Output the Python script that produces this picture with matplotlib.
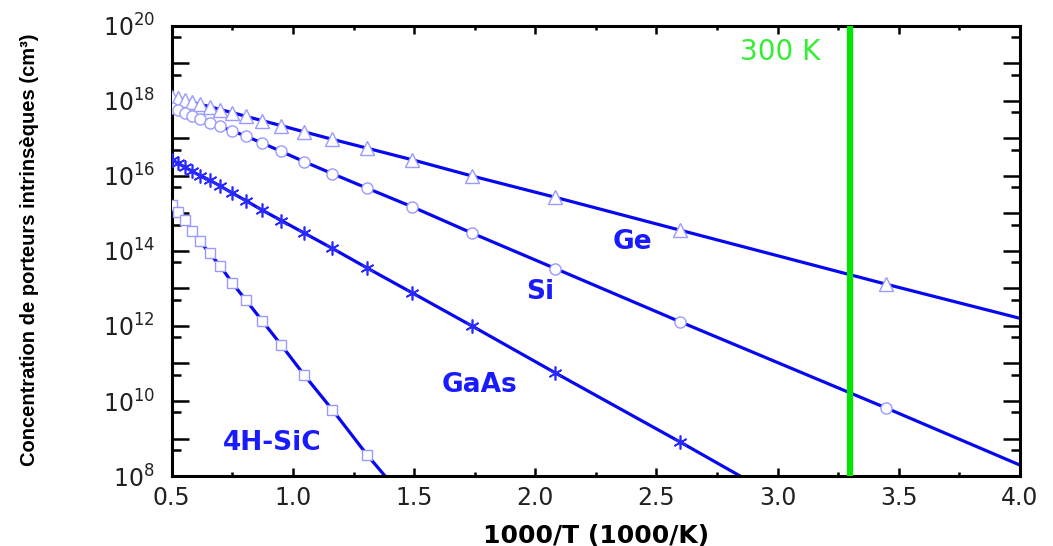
#!/usr/bin/env python3
# -*- coding: utf-8 -*-
"""
Intrinsic carrier concentration vs 1000/T for Ge, Si, GaAs and 4H-SiC
"""

import math
import matplotlib
matplotlib.use("Agg")
import matplotlib.pyplot as plt
from matplotlib.ticker import FixedLocator, FuncFormatter, LogLocator, MultipleLocator


# marker positions, 1000/T (1000/K)
x_mk = [0.500, 0.525, 0.553, 0.583, 0.617, 0.656, 0.700, 0.750, 0.806, 0.873,
        0.952, 1.047, 1.163, 1.307, 1.493, 1.739, 2.083, 2.597, 3.448]

# Ge (cm-3), end = where the line stops
ge_n = [1.29e18, 1.17e18, 1.05e18, 9.3e17, 8.1e17, 7.1e17, 5.9e17, 4.9e17, 3.9e17, 3.0e17,
        2.2e17, 1.5e17, 9.5e16, 5.5e16, 2.7e16, 1.0e16, 2.7e15, 3.6e14, 1.3e13]
ge_end = (4.0, 1.6e12)

# Si
si_n = [6.6e17, 5.8e17, 4.9e17, 4.1e17, 3.3e17, 2.6e17, 2.1e17, 1.6e17, 1.15e17, 7.6e16,
        4.5e16, 2.4e16, 1.15e16, 4.7e15, 1.5e15, 3.0e14, 3.4e13, 1.3e12, 6.5e9]
si_end = (4.0, 1.95e8)

# GaAs (markers up to 2.597)
gaas_n = [2.7e16, 2.2e16, 1.74e16, 1.35e16, 1.02e16, 7.8e15, 5.4e15, 3.5e15, 2.2e15, 1.23e15,
          6.5e14, 3.0e14, 1.17e14, 3.5e13, 7.6e12, 1.0e12, 5.6e10, 8.1e8]
gaas_end = (2.845, 1.0e8)

# 4H-SiC (markers up to 1.307)
sic_n = [1.7e15, 1.07e15, 6.8e14, 3.5e14, 1.8e14, 8.7e13, 4.0e13, 1.4e13, 4.9e12, 1.38e12,
         3.1e11, 4.9e10, 5.8e9, 3.6e8]
sic_end = (1.38, 1.0e8)

t_room = 3.3  # 300 K line as drawn

line_col = "#0808f0"
mk_col = "#9a9aff"

fig = plt.figure(figsize=(10.53, 5.46), dpi=100)
ax = fig.add_axes([0.1631, 0.1282, 0.8056, 0.8242])


def plot_series(ax, xs, ys, end, marker, ms, mec, mew):
    xl = xs[:len(ys)] + [end[0]]
    yl = ys + [end[1]]
    ax.plot(xl, yl, color=line_col, lw=2.3, zorder=2)
    ax.plot(xs[:len(ys)], ys, ls="none", marker=marker, ms=ms, mfc="white",
            mec=mec, mew=mew, zorder=3)


plot_series(ax, x_mk, ge_n, ge_end, "^", 9.5, mk_col, 1.0)
plot_series(ax, x_mk, si_n, si_end, "o", 8, mk_col, 1.0)
plot_series(ax, x_mk, gaas_n, gaas_end, (6, 2, 0), 10, "#2a2aff", 1.2)
plot_series(ax, x_mk, sic_n, sic_end, "s", 6.5, mk_col, 1.0)

ax.axvline(t_room, color="#00e600", lw=4.5, zorder=4)

# labels on the curves
lab_kw = dict(color="#1a1aff", fontsize=19, fontweight="bold", ha="center", va="center")
ax.text(2.40, 1.7e14, "Ge", **lab_kw)
ax.text(2.02, 8.1e12, "Si", **lab_kw)
ax.text(1.77, 2.7e10, "GaAs", **lab_kw)
ax.text(0.914, 7.6e8, "4H-SiC", **lab_kw)
ax.text(3.01, 2.0e19, "300 K", color="#33ee33", fontsize=20, ha="center", va="center")

ax.set_yscale("log")
ax.set_xlim(0.5, 4.0)
ax.set_ylim(1e8, 1e20)

ax.xaxis.set_major_locator(MultipleLocator(0.5))
ax.xaxis.set_minor_locator(MultipleLocator(0.25))
ax.yaxis.set_major_locator(FixedLocator([10.0 ** k for k in range(8, 21)]))
ax.yaxis.set_minor_locator(LogLocator(base=10, subs=[5.0], numticks=30))


def ylab(v, pos):
    k = int(round(math.log10(v)))
    if k % 2:
        return ""
    return r"$\mathregular{10^{%d}}$" % k


ax.yaxis.set_major_formatter(FuncFormatter(ylab))
ax.yaxis.set_minor_formatter(FuncFormatter(lambda v, p: ""))
ax.xaxis.set_major_formatter(FuncFormatter(lambda v, p: f"{v:.1f}"))

ax.tick_params(axis="x", which="major", direction="in", length=6, width=1.8,
               top=True, labelsize=17, pad=7, labelcolor="#222222")
ax.tick_params(axis="x", which="minor", direction="in", length=3, width=1.8, top=True)
ax.tick_params(axis="y", which="major", direction="in", length=12, width=1.8,
               right=True, labelsize=17, pad=12, labelcolor="#222222")
ax.tick_params(axis="y", which="minor", direction="in", length=6.5, width=1.8, right=True)

for sp in ax.spines.values():
    sp.set_linewidth(2.2)

ax.set_xlabel("1000/T (1000/K)", fontsize=18, fontweight="bold", labelpad=10)
fig.text(0.028, 0.542, "Concentration de porteurs intrinsèques (cm\u00b3)",
         rotation=90, ha="center", va="center", fontsize=14.5, fontweight="bold",
         family=["Liberation Sans", "DejaVu Sans"])

fig.savefig("out.png", dpi=100)
